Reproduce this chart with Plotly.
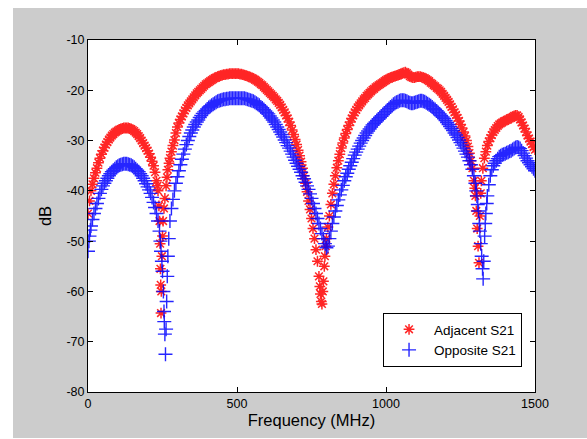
import plotly.graph_objects as go

# Adjacent S21 (red asterisks): frequency (MHz) and level (dB)
adj_freq = [0, 5, 10, 15, 20, 25, 30, 35, 40, 45, 50, 55, 60, 65, 70, 75, 80, 85, 90, 95, 100, 105,
            110, 115, 120, 125, 130, 135, 140, 145, 150, 155, 160, 165, 170, 175, 180, 185, 190, 195,
            200, 205, 210, 215, 220, 225, 230, 233, 235, 238, 240, 242, 243, 244, 245, 246, 248, 250,
            252, 255, 258, 262, 265, 268, 272, 275, 280, 285, 290, 295, 300, 305, 310, 315, 320, 325,
            330, 335, 340, 345, 350, 355, 360, 365, 370, 375, 380, 385, 390, 395, 400, 405, 410, 415,
            420, 425, 430, 435, 440, 445, 450, 455, 460, 465, 470, 475, 480, 485, 490, 495, 500, 505,
            510, 515, 520, 525, 530, 535, 540, 545, 550, 555, 560, 565, 570, 575, 580, 585, 590, 595,
            600, 605, 610, 615, 620, 625, 630, 635, 640, 645, 650, 655, 660, 665, 670, 675, 680, 685,
            690, 695, 700, 705, 710, 715, 720, 725, 730, 735, 740, 745, 750, 755, 760, 765, 770, 775,
            778, 780, 783, 785, 788, 790, 793, 795, 798, 800, 805, 810, 815, 820, 825, 830, 835, 840,
            845, 850, 855, 860, 865, 870, 875, 880, 885, 890, 895, 900, 905, 910, 915, 920, 925, 930,
            935, 940, 945, 950, 955, 960, 965, 970, 975, 980, 985, 990, 995, 1000, 1005, 1010, 1015,
            1020, 1025, 1030, 1035, 1040, 1045, 1050, 1055, 1060, 1065, 1070, 1075, 1080, 1085, 1090,
            1095, 1100, 1105, 1110, 1115, 1120, 1125, 1130, 1135, 1140, 1145, 1150, 1155, 1160, 1165,
            1170, 1175, 1180, 1185, 1190, 1195, 1200, 1205, 1210, 1215, 1220, 1225, 1230, 1235, 1240,
            1245, 1250, 1255, 1260, 1265, 1270, 1275, 1280, 1285, 1290, 1295, 1298, 1300, 1303, 1306,
            1309, 1312, 1315, 1318, 1320, 1325, 1330, 1335, 1340, 1345, 1350, 1355, 1360, 1365, 1370,
            1375, 1380, 1385, 1390, 1395, 1400, 1405, 1410, 1415, 1420, 1425, 1430, 1435, 1440, 1445,
            1450, 1455, 1460, 1465, 1470, 1475, 1480, 1485, 1490, 1495, 1500]
adj_db = [-44.5, -42, -40, -38.7, -37.5, -36.4, -35.5, -34.4, -33.5, -32.7, -32, -31.4, -30.8, -30.3,
          -29.8, -29.4, -29, -28.7, -28.4, -28.2, -28, -27.8, -27.7, -27.6, -27.5, -27.5, -27.5, -27.5,
          -27.6, -27.7, -27.9, -28.1, -28.4, -28.7, -29.1, -29.5, -30, -30.5, -31, -31.5, -32, -32.6,
          -33.3, -34.1, -35, -36.3, -38, -39, -40, -43, -46, -50.5, -55.5, -58.7, -64.3, -60, -53,
          -49, -46, -43.5, -41.5, -39, -37.3, -35.8, -34.5, -33.5, -32.2, -31, -29.9, -28.5, -27.3,
          -26.5, -25.8, -25.2, -24.6, -24, -23.5, -23, -22.6, -22.2, -21.8, -21.4, -21, -20.6, -20.3,
          -20, -19.7, -19.4, -19.1, -18.8, -18.6, -18.4, -18.2, -18, -17.8, -17.6, -17.5, -17.3,
          -17.2, -17.1, -17, -16.9, -16.9, -16.8, -16.8, -16.7, -16.7, -16.7, -16.7, -16.7, -16.7,
          -16.7, -16.8, -16.8, -16.9, -17, -17.1, -17.2, -17.3, -17.4, -17.6, -17.7, -17.9, -18.1,
          -18.3, -18.5, -18.8, -19, -19.3, -19.6, -19.9, -20.2, -20.5, -20.8, -21.1, -21.4, -21.8,
          -22.1, -22.5, -22.9, -23.4, -23.9, -24.4, -25, -25.6, -26.3, -27, -27.9, -28.8, -29.8,
          -30.8, -31.9, -33, -34.2, -35.5, -37, -38.5, -40.2, -42, -43.7, -45.5, -47.5, -49.5, -51.7,
          -54, -57, -59, -60.5, -62, -62.5, -60, -58, -55, -53, -51, -49.5, -47.2, -45, -42.7, -40.5,
          -38.7, -37, -35.4, -34, -32.7, -31.5, -30.5, -29.5, -28.6, -27.8, -27, -26.3, -25.6, -25,
          -24.4, -23.9, -23.4, -23, -22.6, -22.2, -21.8, -21.5, -21.1, -20.8, -20.5, -20.2, -19.9,
          -19.7, -19.4, -19.2, -19, -18.8, -18.6, -18.4, -18.2, -18, -17.8, -17.7, -17.5, -17.4,
          -17.3, -17.2, -17.1, -17, -16.9, -16.8, -16.6, -16.5, -16.4, -16.6, -16.9, -17.2, -17.4,
          -17.5, -17.5, -17.4, -17.3, -17.3, -17.3, -17.4, -17.5, -17.6, -17.8, -18, -18.2, -18.5,
          -18.7, -19, -19.2, -19.5, -19.7, -20, -20.3, -20.7, -21.1, -21.5, -21.9, -22.3, -22.8,
          -23.3, -23.8, -24.4, -24.9, -25.5, -26.1, -26.8, -27.5, -28.3, -29.1, -30, -31.2, -32.5,
          -34, -35.5, -38, -39.5, -41, -44, -47.5, -51, -54.3, -45, -40.5, -38, -35.5, -33.5, -32.2,
          -31, -30.2, -29.5, -28.9, -28.3, -27.9, -27.5, -27.1, -26.8, -26.6, -26.4, -26.2, -26.1,
          -25.9, -25.8, -25.6, -25.5, -25.3, -25.1, -25, -25, -25.3, -25.8, -26.4, -27, -27.6, -28.3,
          -29, -29.6, -30.2, -30.7, -31.3, -31.8]

# Opposite S21 (blue crosses)
opp_freq = [0, 3, 5, 8, 10, 15, 20, 25, 30, 35, 40, 45, 50, 55, 60, 65, 70, 75, 80, 85, 90, 95, 100,
            105, 110, 115, 120, 125, 130, 135, 140, 145, 150, 155, 160, 165, 170, 175, 180, 185, 190,
            195, 200, 205, 210, 215, 220, 225, 230, 235, 240, 243, 245, 248, 250, 253, 255, 256, 258,
            260, 262, 264, 266, 268, 271, 275, 280, 285, 290, 295, 300, 305, 310, 315, 320, 325, 330,
            335, 340, 345, 350, 355, 360, 365, 370, 375, 380, 385, 390, 395, 400, 405, 410, 415, 420,
            425, 430, 435, 440, 445, 450, 455, 460, 465, 470, 475, 480, 485, 490, 495, 500, 505, 510,
            515, 520, 525, 530, 535, 540, 545, 550, 555, 560, 565, 570, 575, 580, 585, 590, 595, 600,
            605, 610, 615, 620, 625, 630, 635, 640, 645, 650, 655, 660, 665, 670, 675, 680, 685, 690,
            695, 700, 705, 710, 715, 720, 725, 730, 735, 740, 745, 750, 755, 760, 765, 770, 775, 780,
            785, 790, 795, 800, 805, 810, 815, 820, 825, 830, 835, 840, 845, 850, 855, 860, 865, 870,
            875, 880, 885, 890, 895, 900, 905, 910, 915, 920, 925, 930, 935, 940, 945, 950, 955, 960,
            965, 970, 975, 980, 985, 990, 995, 1000, 1005, 1010, 1015, 1020, 1025, 1030, 1035, 1040,
            1045, 1050, 1055, 1060, 1065, 1070, 1075, 1080, 1085, 1090, 1095, 1100, 1105, 1110, 1115,
            1120, 1125, 1130, 1135, 1140, 1145, 1150, 1155, 1160, 1165, 1170, 1175, 1180, 1185, 1190,
            1195, 1200, 1205, 1210, 1215, 1220, 1225, 1230, 1235, 1240, 1245, 1250, 1255, 1260, 1265,
            1270, 1275, 1280, 1285, 1290, 1295, 1300, 1303, 1305, 1308, 1310, 1313, 1315, 1318, 1321,
            1324, 1326, 1328, 1331, 1333, 1335, 1338, 1340, 1345, 1350, 1355, 1360, 1365, 1370, 1375,
            1380, 1385, 1390, 1395, 1400, 1405, 1410, 1415, 1420, 1425, 1430, 1435, 1440, 1445, 1450,
            1455, 1460, 1465, 1470, 1475, 1480, 1485, 1490, 1495, 1500]
opp_db = [-52, -50, -49, -47.8, -47, -45.7, -44.5, -43.5, -42.5, -41.5, -40.5, -39.7, -39, -38.5, -38,
          -37.5, -37, -36.6, -36.2, -35.9, -35.6, -35.3, -35.1, -34.9, -34.8, -34.7, -34.6, -34.6,
          -34.6, -34.7, -34.8, -34.9, -35.1, -35.3, -35.6, -35.9, -36.2, -36.6, -37, -37.5, -38, -38.6,
          -39.2, -39.8, -40.5, -41.3, -42.3, -43.3, -44.5, -46, -48, -50, -52, -54, -56, -60, -64, -66,
          -68.5, -72.5, -67.5, -62, -57, -53, -49.5, -46, -43.5, -41.7, -40, -38.5, -37.2, -36, -34.8,
          -33.7, -32.7, -31.7, -30.8, -30, -29.2, -28.5, -27.9, -27.3, -26.8, -26.3, -25.9, -25.4, -25,
          -24.6, -24.3, -24, -23.7, -23.4, -23.2, -23, -22.8, -22.6, -22.4, -22.2, -22.1, -22, -21.9,
          -21.8, -21.8, -21.7, -21.7, -21.6, -21.6, -21.6, -21.6, -21.6, -21.6, -21.6, -21.6, -21.6,
          -21.6, -21.6, -21.7, -21.8, -21.9, -22, -22.1, -22.2, -22.4, -22.6, -22.8, -23, -23.3, -23.5,
          -23.8, -24.1, -24.4, -24.7, -25.1, -25.5, -25.9, -26.3, -26.8, -27.3, -27.8, -28.3, -28.8,
          -29.3, -29.9, -30.4, -31, -31.5, -32.1, -32.7, -33.3, -33.9, -34.5, -35.1, -35.7, -36.3, -37,
          -37.6, -38.3, -39, -39.7, -40.6, -41.5, -42.5, -43.5, -44.5, -45.5, -46.5, -47.5, -48.5,
          -49.5, -50.5, -51.3, -51, -49.5, -48, -46.5, -45.2, -44, -42.9, -41.8, -40.8, -39.8, -38.9,
          -38, -37.2, -36.5, -35.7, -35, -34.3, -33.6, -32.9, -32.3, -31.7, -31.1, -30.5, -30, -29.5,
          -29, -28.5, -28.1, -27.7, -27.3, -26.9, -26.6, -26.3, -26, -25.7, -25.4, -25.1, -24.8, -24.5,
          -24.2, -23.9, -23.6, -23.3, -23.1, -22.8, -22.6, -22.4, -22.3, -22.1, -22, -22, -22, -22.1,
          -22.2, -22.4, -22.5, -22.6, -22.6, -22.5, -22.4, -22.3, -22.2, -22.1, -22.1, -22.2, -22.3,
          -22.5, -22.7, -22.9, -23.1, -23.3, -23.6, -23.8, -24.1, -24.4, -24.7, -25, -25.3, -25.6, -26,
          -26.4, -26.8, -27.2, -27.6, -28, -28.5, -28.9, -29.4, -29.9, -30.4, -30.9, -31.5, -32.1,
          -32.7, -33.3, -34, -34.8, -35.7, -37, -38.5, -40, -41, -42.7, -44, -46.5, -48, -50.5, -53,
          -55.5, -57.5, -54, -49, -46.5, -44.5, -42.5, -41, -38.8, -37, -35.8, -35, -34.5, -34, -33.6,
          -33.2, -33, -32.8, -32.7, -32.6, -32.4, -32.3, -32.1, -32, -31.8, -31.6, -31.4, -31.3, -31.4,
          -31.6, -32, -32.5, -33, -33.5, -34, -34.4, -34.8, -35.2, -35.6, -36]

x_ticks = [0, 500, 1000, 1500]
y_ticks = [-80, -70, -60, -50, -40, -30, -20, -10]

FONT = "Liberation Sans, Arial, Helvetica, sans-serif"

fig = go.Figure()
fig.add_trace(go.Scatter(
    x=adj_freq, y=adj_db, mode="markers", name="Adjacent S21",
    marker=dict(symbol="asterisk-open", size=9, color="#ff0000",
                line=dict(color="#ff0000", width=1.5)),
    opacity=0.85,
))
fig.add_trace(go.Scatter(
    x=opp_freq, y=opp_db, mode="markers", name="Opposite S21",
    marker=dict(symbol="cross-thin-open", size=10, color="#0000ff",
                line=dict(color="#0000ff", width=1.4)),
    opacity=0.85,
))

axis_common = dict(
    showgrid=False, zeroline=False, showline=True, linecolor="black", linewidth=1,
    mirror="ticks", ticks="inside", ticklen=5, tickcolor="black", tickwidth=1,
    tickfont=dict(family=FONT, size=12.5, color="black"), automargin=False,
)

fig.update_xaxes(range=[0, 1500], tickvals=x_ticks, ticktext=[str(v) for v in x_ticks],
                 title=dict(text="Frequency (MHz)", font=dict(family=FONT, size=16.5, color="black"),
                            standoff=4),
                 **axis_common)
fig.update_yaxes(range=[-80, -10], tickvals=y_ticks, ticktext=[str(v) for v in y_ticks],
                 title=dict(text="dB", font=dict(family=FONT, size=16.5, color="black"),
                            standoff=10),
                 **axis_common)

# white strips around the gray figure background (as in the source image)
for x0, x1, y0, y1 in [(-0.3, -0.1678, -0.3, 1.3), (-0.3, 1.3, 1.0909, 1.3),
                       (-0.3, 1.3, -0.3, -0.1307)]:
    fig.add_shape(type="rect", xref="paper", yref="paper", x0=x0, x1=x1, y0=y0, y1=y1,
                  fillcolor="white", line=dict(width=0), layer="above")

fig.update_layout(
    width=587, height=439,
    margin=dict(l=88, r=52, t=40, b=47),
    paper_bgcolor="#cccccc", plot_bgcolor="white",
    font=dict(family=FONT, color="black"),
    showlegend=True,
    legend=dict(x=0.971, y=0.071, xanchor="right", yanchor="bottom",
                bgcolor="white", bordercolor="black", borderwidth=1,
                font=dict(family=FONT, size=13.5, color="black"),
                itemwidth=40, tracegroupgap=0),
)

fig.write_html("out.html", config={"displayModeBar": False},
               post_script="document.body.style.margin='0';document.body.style.overflow='hidden';")
